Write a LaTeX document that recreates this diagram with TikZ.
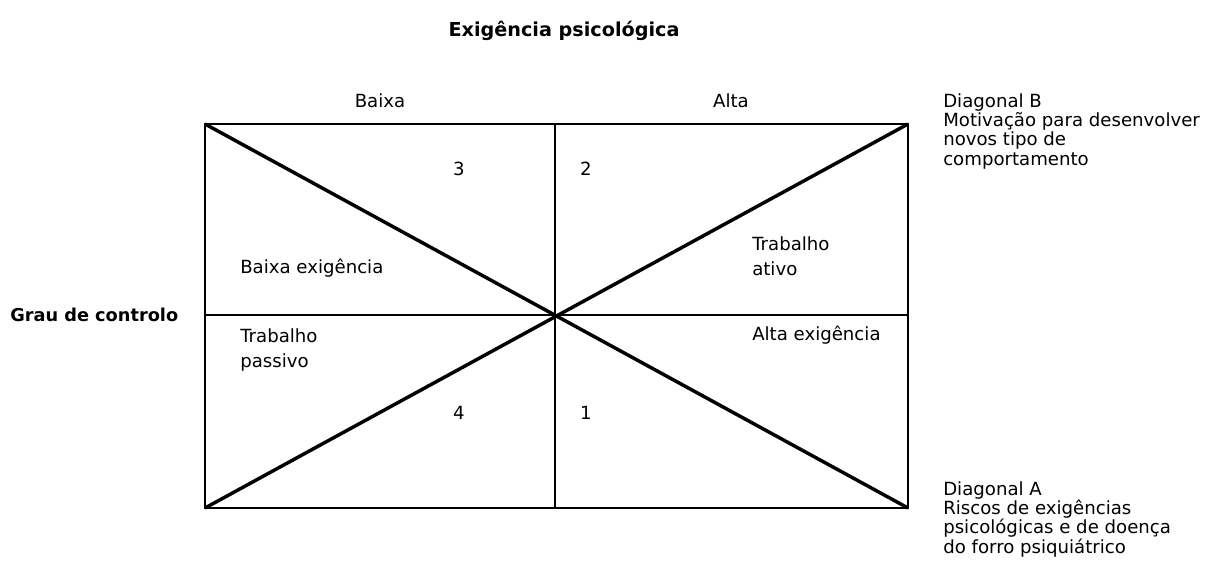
\documentclass[tikz,border=0pt]{standalone}
\usepackage{fontspec}
\setmainfont{DejaVu Sans}
\begin{document}
\begin{tikzpicture}[x=0.75pt,y=-0.75pt,
  lbl/.style={font=\fontsize{13.6}{14.6}\selectfont,inner sep=0pt},
  lblL/.style={lbl,anchor=west,align=left},
  lblW/.style={font=\fontsize{13.6}{19.2}\selectfont,inner sep=0pt,anchor=north west,align=left},
  head/.style={font=\fontsize{14.4}{16}\selectfont\bfseries,inner sep=0pt},
  frame/.style={line width=1.2pt},
  diag/.style={line width=2.6pt}]
\useasboundingbox (0,0) rectangle (1222,565);
\coordinate (tl) at (205,124);
\coordinate (tr) at (908,124);
\coordinate (bl) at (205,508);
\coordinate (br) at (908,508);
\coordinate (tm) at (555,124);
\coordinate (bm) at (555,508);
\coordinate (ml) at (205,315);
\coordinate (mr) at (908,315);
\draw[frame] (tl) rectangle (br);
\draw[frame] (tm) -- (bm);
\draw[frame] (ml) -- (mr);
\draw[diag] (tl) -- (br);
\draw[diag] (bl) -- (tr);
\node[head] (title) at (564,31) {Exigência psicológica};
\node[head,anchor=west,font=\fontsize{13.3}{16}\selectfont\bfseries] (grau) at (10,315) {Grau de controlo};
\node[lbl] (baixa) at (380,101) {Baixa};
\node[lbl] (alta) at (731,101) {Alta};
\node[lbl,anchor=north west,align=left] (dB) at (943,93) {Diagonal B\\Motivação para desenvolver\\novos tipo de\\comportamento};
\node[lbl,anchor=north west,align=left] (dA) at (943,481) {Diagonal A\\Riscos de exigências\\psicológicas e de doença\\do forro psiquiátrico};
\node[lbl] (n3) at (459,169) {3};
\node[lbl] (n2) at (586,169) {2};
\node[lbl] (n4) at (459,413) {4};
\node[lbl] (n1) at (586,413) {1};
\node[lblL] (be) at (240,268) {Baixa exigência};
\node[lblW] (ta) at (752,236) {Trabalho\\ativo};
\node[lblW] (tp) at (240,328) {Trabalho\\passivo};
\node[lblL] (ae) at (752,335) {Alta exigência};
\end{tikzpicture}
\end{document}
